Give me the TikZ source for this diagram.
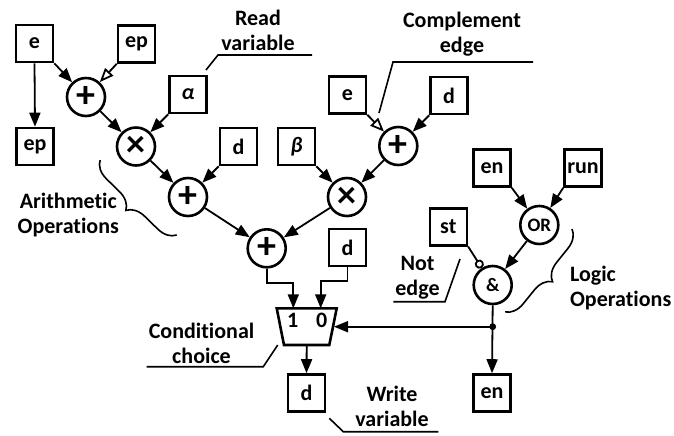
\documentclass[tikz,border=0pt]{standalone}
\usepackage{fontspec}
\setmainfont{Carlito}[Ligatures=NoCommon]
\usetikzlibrary{arrows.meta}
\usetikzlibrary{calc}
\usetikzlibrary{decorations.pathreplacing}

\tikzset{
	var/.style={draw, line width=1.3pt, minimum size=18.5pt, inner sep=0pt, font=\fontsize{11}{13}\selectfont\bfseries},
	op/.style={circle, draw, line width=1.3pt, minimum size=19pt, inner sep=0pt, font=\fontsize{19}{19}\selectfont\bfseries},
	logic/.style={op, font=\fontsize{9.5}{10}\selectfont\bfseries},
	arr/.style={line width=0.9pt, -{Triangle[length=7pt,width=5.5pt]}},
	carr/.style={line width=0.9pt, -{Triangle[open,length=7pt,width=5.5pt]}},
	narr/.style={line width=0.9pt, -{Circle[open,length=4.5pt]}},
	note/.style={font=\fontsize{11}{12.5}\selectfont\bfseries, align=center},
	lead/.style={line width=0.8pt},
	brc/.style={line width=0.8pt, decorate, decoration={brace, amplitude=9pt}}
}

\begin{document}
\begin{tikzpicture}[x=0.5pt, y=-0.5pt]
		\useasboundingbox (0,0) rectangle (674,435);
		\node[var] (e1) at (34.5,43.5) {e};
		\node[var] (ep1) at (136.5,44) {ep};
		\node[var] (ep2) at (35,146.5) {ep};
		\node[op] (plusA) at (86,97) {+};
		\node[var] (alpha) at (188,94.5) {\textit{α}};
		\node[op] (timesA) at (136,146.5) {×};
		\node[var] (d1) at (238.5,146.5) {d};
		\node[op] (plusB) at (188,197) {+};
		\node[var] (beta) at (296.5,146.5) {\textit{β}};
		\node[op] (timesB) at (347,197) {×};
		\node[var] (e2) at (347.5,95) {e};
		\node[var] (d2) at (449,95.5) {d};
		\node[op] (plusC) at (398.3,146) {+};
		\node[op] (plusD) at (266.7,248.3) {+};
		\node[var] (d3) at (347.5,247.5) {d};
		\node[var] (en1) at (492,168) {en};
		\node[var] (run) at (583,168) {run};
		\node[logic] (gOr) at (539.3,225) {OR};
		\node[var] (st) at (448.3,226.7) {st};
		\node[logic] (gAnd) at (492.7,285) {\&};
		\node[var] (d4) at (306.5,393) {d};
		\node[var] (en2) at (492,393) {en};

		\draw[line width=1.3pt] (276.7,308.3) -- (336.7,308.3) -- (329.3,345) -- (284,345) -- cycle;
		\coordinate (mux1) at (293.3,308.3);
		\coordinate (mux0) at (320.7,308.3);
		\coordinate (muxS) at (334,326.7);
		\coordinate (muxOut) at (306.7,345);
		\coordinate (split) at (492.7,326.7);
		\node[note] (one) at (292.7,320) {1};
		\node[note] (zero) at (321.7,320) {0};

		\draw[arr] (e1.south east) -- (plusA);
		\draw[carr] (ep1.south west) -- (plusA);
		\draw[arr] (e1.south) -- (ep2.north);
		\draw[arr] (plusA) -- (timesA);
		\draw[arr] (alpha.south west) -- (timesA);
		\draw[arr] (timesA) -- (plusB);
		\draw[arr] (d1.south west) -- (plusB);
		\draw[arr] (beta.south east) -- (timesB);
		\draw[carr] (e2.south east) -- (plusC);
		\draw[arr] (d2.south west) -- (plusC);
		\draw[arr] (plusC) -- (timesB);
		\draw[arr] (plusB) -- (plusD);
		\draw[arr] (timesB) -- (plusD);
		\draw[arr] (plusD.south) -- ++(0,14) -| (mux1);
		\draw[arr] (d3.south) -- ++(0,14) -| (mux0);
		\draw[arr] (muxOut) -- (d4.north);
		\draw[arr] (en1.south east) -- (gOr);
		\draw[arr] (run.south west) -- (gOr);
		\draw[arr] (gOr) -- (gAnd);
		\draw[narr] (st.south east) -- (gAnd);
		\draw[arr] (gAnd.south) -- (en2.north);
		\draw[arr] (split) -- (muxS);
		\fill (split) circle (1.7pt);

		\node[note] (readLbl) at (258,30) {Read\\variable};
		\draw[lead] (206,70) -- (218,55) -- (312,55);
		\node[note] (complLbl) at (462,34) {Complement\\edge};
		\draw[lead] (379,113) -- (393,62) -- (533,62);
		\node[note] (arithLbl) at (68.3,215.3) {Arithmetic\\Operations};
		\draw[brc] (176.7,235) -- (100,160);
		\node[note] (condLbl) at (201.5,343) {Conditional\\choice};
		\draw[lead] (277.7,345) -- (263.3,366.7) -- (146.7,366.7);
		\node[note] (writeLbl) at (392,406.7) {Write\\variable};
		\draw[lead] (329.3,418.3) -- (343.3,431.7) -- (438.3,431.7);
		\node[note] (notLbl) at (417.5,277.5) {Not\\edge};
		\draw[lead] (460,259) -- (445,301.7) -- (393.3,301.7);
		\node[note, align=left, anchor=west] (logicLbl) at (563,287.5) {Logic\\Operations};
		\draw[brc] (572,229) -- (505,312);
\end{tikzpicture}
\end{document}
